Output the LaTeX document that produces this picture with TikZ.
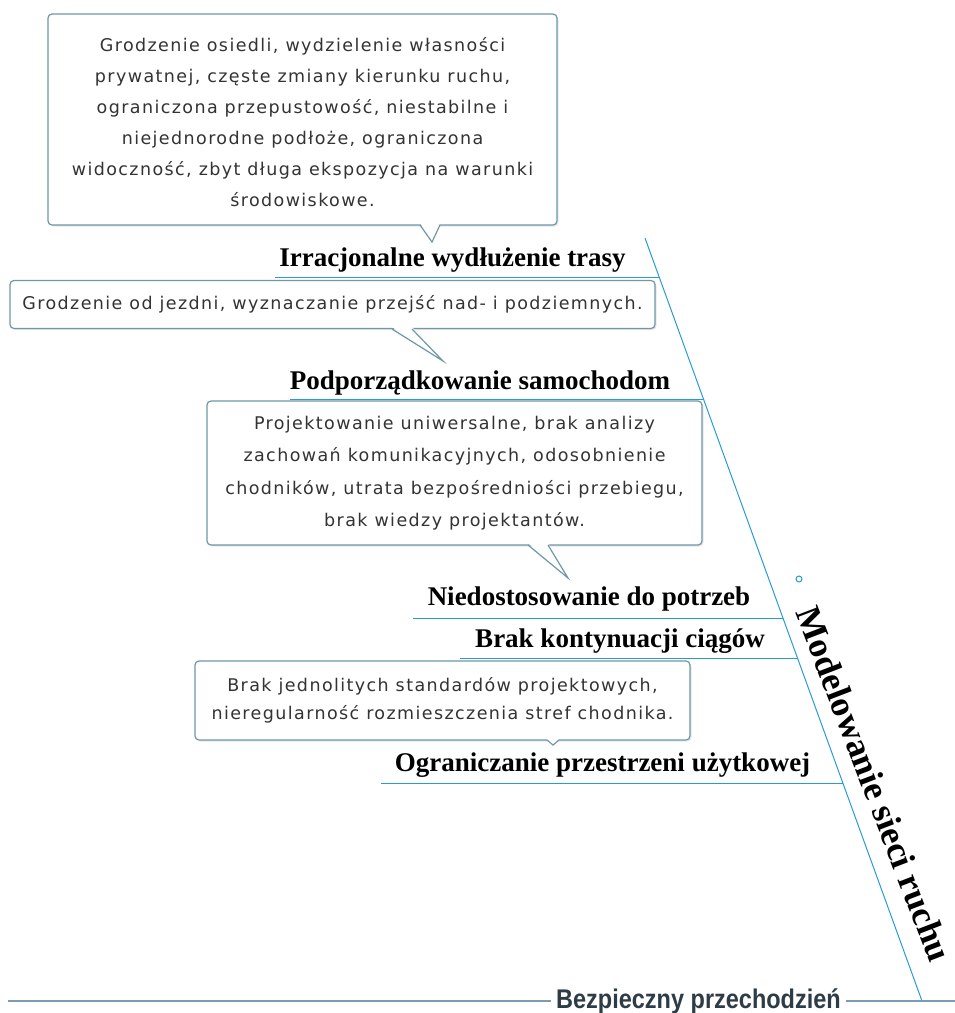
\documentclass[tikz,border=0pt]{standalone}
\usepackage{fontspec}
\setmainfont{Liberation Serif}
\newfontfamily\boxfont{DejaVu Sans}[LetterSpace=8]
\newfontfamily\narrowfont{Liberation Sans}[FakeStretch=0.87]
\usetikzlibrary{shadows,calc}
\definecolor{spine}{HTML}{2A9BD0}
\definecolor{boxline}{HTML}{6F97A8}
\definecolor{groundcol}{HTML}{7D9BB0}
\definecolor{boxtext}{HTML}{333333}
\definecolor{effecttext}{HTML}{2E3C46}
\tikzset{
  boxcontent/.style={inner sep=0pt, font=\boxfont\fontsize{17.5}{31}\selectfont, text=boxtext, align=center},
  callbox/.style={boxcontent, draw=boxline, line width=1.2pt, rounded corners=4pt, fill=white,
    drop shadow={opacity=0.2,shadow xshift=1.5pt,shadow yshift=-1.5pt}},
  causelabel/.style={font=\bfseries\fontsize{27}{30}\selectfont, anchor=base, inner sep=0pt},
  branch/.style={draw=spine, line width=1pt},
  tailfill/.style={fill=white},
  tailline/.style={draw=boxline, line width=1.2pt}
}
\begin{document}
\begin{tikzpicture}[x=1pt,y=-1pt]
\useasboundingbox (0,0) rectangle (955,1013);
% spine
\coordinate (top) at (645,238);
\coordinate (bot) at (922,1001);
\draw[branch] (top) -- (bot);
% branch coordinates
\coordinate (s1) at ($(top)!{39/763}!(bot)$);
\coordinate (s2) at ($(top)!{161/763}!(bot)$);
\coordinate (s3) at ($(top)!{380/763}!(bot)$);
\coordinate (s4) at ($(top)!{420/763}!(bot)$);
\coordinate (s5) at ($(top)!{545/763}!(bot)$);
\coordinate (l1) at (275,277);
\coordinate (l2) at (290,399);
\coordinate (l3) at (413,618);
\coordinate (l4) at (460,658);
\coordinate (l5) at (381,783);
\draw[branch] (l1) -- (l1 -| s1);
\draw[branch] (l2) -- (l2 -| s2);
\draw[branch] (l3) -- (l3 -| s3);
\draw[branch] (l4) -- (l4 -| s4);
\draw[branch] (l5) -- (l5 -| s5);
% labels
\node[causelabel] (c1) at (452.5,266) {Irracjonalne wydłużenie trasy};
\node[causelabel] (c2) at (480,389) {Podporządkowanie samochodom};
\node[causelabel] (c3) at (589,605) {Niedostosowanie do potrzeb};
\node[causelabel] (c4) at (620,647) {Brak kontynuacji ciągów};
\node[causelabel] (c5) at (602.5,771) {Ograniczanie przestrzeni użytkowej};
% boxes
\node[callbox, minimum width=509pt, minimum height=211pt] (b1) at (302.5,119.5) {};
\node[boxcontent] (b1text) at (302.5,122.5)
  {Grodzenie osiedli, wydzielenie własności\\prywatnej, częste zmiany kierunku ruchu,\\ograniczona przepustowość, niestabilne i\\niejednorodne podłoże, ograniczona\\widoczność, zbyt długa ekspozycja na warunki\\środowiskowe.};
\fill[tailfill] (420,223) -- (440,223) -- (432,242) -- cycle;
\draw[tailline] (420,225) -- (432,242) -- (440,225);
\node[callbox, minimum width=645pt, minimum height=48pt] (b2) at (332.5,304.5)
  {Grodzenie od jezdni, wyznaczanie przejść nad- i podziemnych.};
\fill[tailfill] (392,327) -- (412,327) -- (443,361) -- cycle;
\draw[tailline] (392,329) -- (443,361) -- (412,329);
\node[callbox, minimum width=495pt, minimum height=144pt, font=\boxfont\fontsize{17.5}{32.5}\selectfont] (b3) at (454.5,473)
  {Projektowanie uniwersalne, brak analizy\\zachowań komunikacyjnych, odosobnienie\\chodników, utrata bezpośredniości przebiegu,\\brak wiedzy projektantów.};
\fill[tailfill] (528,543) -- (548,543) -- (568,578) -- cycle;
\draw[tailline] (528,545) -- (568,578) -- (548,545);
\node[callbox, minimum width=495pt, minimum height=79pt, font=\boxfont\fontsize{17.5}{28}\selectfont] (b4) at (442.5,700.5)
  {Brak jednolitych standardów projektowych,\\nieregularność rozmieszczenia stref chodnika.};
\fill[tailfill] (546,738) -- (560,738) -- (553,745) -- cycle;
\draw[tailline] (547,740) -- (553,745) -- (559,740);
% title along spine
\node[circle, draw=spine, line width=1pt, minimum size=6pt, inner sep=0pt] (dot) at (799,579) {};
\node[rotate=-69, font=\bfseries\fontsize{35.5}{38}\selectfont, inner sep=0pt] (title) at (874,784) {Modelowanie sieci ruchu};
% ground line
\coordinate (gl) at (8,1001);
\coordinate (gr) at (955,1001);
\node[font=\narrowfont\bfseries\fontsize{27}{30}\selectfont, text=effecttext, inner sep=5pt, anchor=base] (effect) at (698.5,1008) {Bezpieczny przechodzień};
\draw[draw=groundcol, line width=1.2pt] (gl) -- (effect.west |- gl);
\draw[draw=groundcol, line width=1.2pt] (effect.east |- gr) -- (gr);
\end{tikzpicture}
\end{document}
